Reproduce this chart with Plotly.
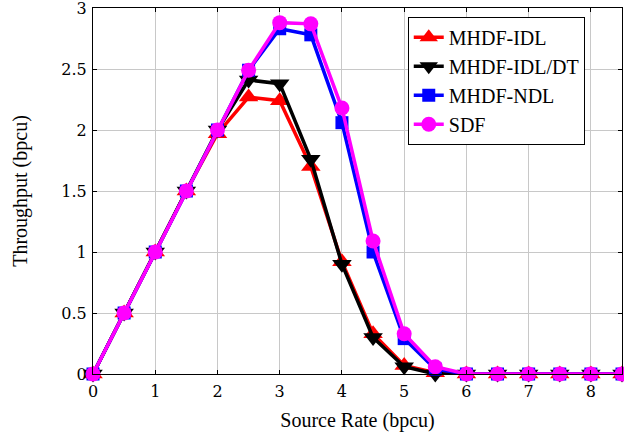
import plotly.graph_objects as go

x = [0, 0.5, 1, 1.5, 2, 2.5, 3, 3.5, 4, 4.5, 5, 5.5, 6, 6.5, 7, 7.5, 8, 8.5]
idl = [0, 0.5, 1.0, 1.5, 1.97, 2.27, 2.24, 1.70, 0.92, 0.33, 0.07, 0.01, 0, 0, 0, 0, 0, 0]
idl_dt = [0, 0.5, 1.0, 1.5, 2.0, 2.41, 2.38, 1.76, 0.90, 0.30, 0.06, 0.0, 0, 0, 0, 0, 0, 0]
ndl = [0, 0.5, 1.0, 1.5, 2.0, 2.49, 2.83, 2.78, 2.06, 1.0, 0.29, 0.04, 0, 0, 0, 0, 0, 0]
sdf = [0, 0.5, 1.0, 1.5, 2.0, 2.49, 2.88, 2.87, 2.18, 1.09, 0.33, 0.06, 0, 0, 0, 0, 0, 0]

names = ["MHDF-IDL", "MHDF-IDL/DT", "MHDF-NDL", "SDF"]
colors = ["#ff0000", "#000000", "#0000ff", "#ff00ff"]
symbols = ["triangle-up", "triangle-down", "square", "circle"]
sizes = [17, 17, 13, 15]
series = [idl, idl_dt, ndl, sdf]

SERIF = "'Liberation Serif', 'Times New Roman', Times, serif"
TICKSERIF = "'DejaVu Serif', 'Liberation Serif', serif"

fig = go.Figure()
for n, c, s, sz, y in zip(names, colors, symbols, sizes, series):
    fig.add_trace(go.Scatter(
        x=x, y=y, name=n, mode="lines+markers",
        line=dict(color=c, width=3.5),
        marker=dict(symbol=s, size=sz, color=c),
        cliponaxis=False,
    ))

axis_common = dict(
    showgrid=True, gridcolor="#c8c8c8", gridwidth=1,
    showline=True, linecolor="black", linewidth=1, mirror="ticks",
    ticks="inside", ticklen=4, tickcolor="black",
    zeroline=False, automargin=False, ticklabeloverflow="allow",
    tickfont=dict(family=TICKSERIF, size=16, color="black"),
)

fig.update_layout(
    width=624, height=438,
    margin=dict(l=93, r=2, t=8, b=64),
    paper_bgcolor="white", plot_bgcolor="white",
    font=dict(family=SERIF, color="black"),
    xaxis=dict(range=[0, 8.5], tickvals=list(range(0, 9)), ticklabelstandoff=3,
               title=dict(text="Source Rate (bpcu)", font=dict(family=SERIF, size=20), standoff=12),
               **axis_common),
    yaxis=dict(range=[0, 3], tickvals=[0, 0.5, 1, 1.5, 2, 2.5, 3],
               ticktext=["0", "0.5", "1", "1.5", "2", "2.5", "3"], ticklabelstandoff=2,
               title=dict(text="Throughput (bpcu)", font=dict(family=SERIF, size=20), standoff=28),
               **axis_common),
    legend=dict(x=0.595, y=0.976, xanchor="left", yanchor="top",
                bordercolor="black", borderwidth=1, bgcolor="white",
                font=dict(family=SERIF, size=20),
                tracegroupgap=0, itemwidth=30),
    showlegend=True,
)

fig.write_html("out.html", config={"displayModeBar": False},
               post_script="document.body.style.margin='0px';")
